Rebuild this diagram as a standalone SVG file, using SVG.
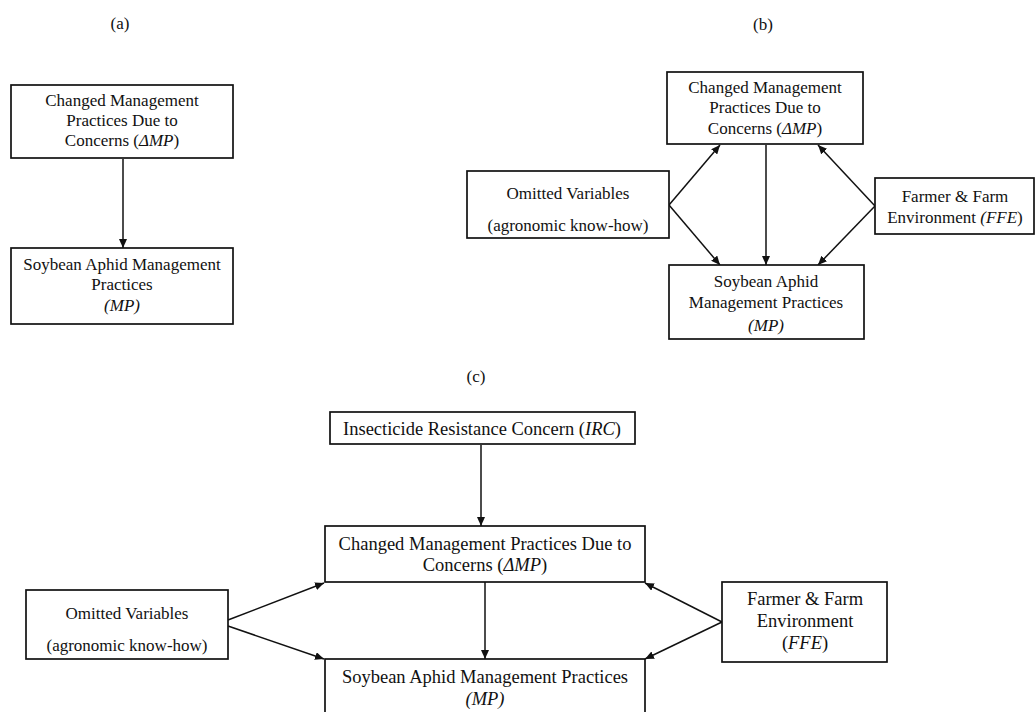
<svg xmlns="http://www.w3.org/2000/svg" width="1036" height="712" viewBox="0 0 1036 712">
<style>
text{font-family:"Liberation Serif","Times New Roman",serif;fill:#111;text-anchor:middle}
.s{font-size:17px}
.l{font-size:18.5px}
.lab{font-size:17px}
.box{fill:#fff;stroke:#111;stroke-width:1.7}
.c line{stroke:#111;stroke-width:1.5;marker-end:url(#ah)}
tspan.i{font-style:italic}
</style>
<defs>
<marker id="ah" markerUnits="userSpaceOnUse" markerWidth="9" markerHeight="8" viewBox="0 0 9 8" refX="9" refY="4" orient="auto">
<path d="M0,0 L9,4 L0,8 z" fill="#111"/>
</marker>
</defs>
<rect width="1036" height="712" fill="#fff"/>
<text class="lab" x="120" y="29">(a)</text>
<text class="lab" x="763" y="30">(b)</text>
<text class="lab" x="476" y="382">(c)</text>

<g class="c" id="connectors">
<line x1="123" y1="159" x2="123" y2="248"/>
<line x1="669" y1="205" x2="720" y2="145"/>
<line x1="669" y1="205" x2="720" y2="265"/>
<line x1="766" y1="145" x2="766" y2="265"/>
<line x1="875" y1="206" x2="818" y2="145"/>
<line x1="875" y1="206" x2="818" y2="265"/>
<line x1="481" y1="445" x2="481" y2="526"/>
<line x1="228" y1="620" x2="324" y2="583"/>
<line x1="228" y1="626" x2="324" y2="659"/>
<line x1="485" y1="582" x2="485" y2="659"/>
<line x1="722" y1="622" x2="645" y2="583"/>
<line x1="722" y1="622" x2="645" y2="659"/>
</g>

<g id="a-dmp">
<rect class="box" x="11" y="85" width="222" height="73"/>
<text class="s" x="122" y="106">Changed Management</text>
<text class="s" x="122" y="126">Practices Due to</text>
<text class="s" x="122" y="146">Concerns (<tspan class="i">ΔMP</tspan>)</text>
</g>
<g id="a-mp">
<rect class="box" x="11" y="248" width="222" height="76"/>
<text class="s" x="122" y="270">Soybean Aphid Management</text>
<text class="s" x="122" y="290">Practices</text>
<text class="s" x="122" y="311"><tspan class="i">(MP)</tspan></text>
</g>

<g id="b-dmp">
<rect class="box" x="667" y="72" width="196" height="72"/>
<text class="s" x="765" y="93">Changed Management</text>
<text class="s" x="765" y="113">Practices Due to</text>
<text class="s" x="765" y="134">Concerns (<tspan class="i">ΔMP</tspan>)</text>
</g>
<g id="b-ov">
<rect class="box" x="467" y="171" width="202" height="67"/>
<text class="s" x="568" y="199">Omitted Variables</text>
<text class="s" x="568" y="231">(agronomic know-how)</text>
</g>
<g id="b-ffe">
<rect class="box" x="875" y="178" width="159" height="56"/>
<text class="s" x="955" y="202">Farmer &amp; Farm</text>
<text class="s" x="955" y="223">Environment <tspan class="i">(FFE</tspan>)</text>
</g>
<g id="b-mp">
<rect class="box" x="669" y="265" width="195" height="74"/>
<text class="s" x="766" y="287">Soybean Aphid</text>
<text class="s" x="766" y="308">Management Practices</text>
<text class="s" x="766" y="331"><tspan class="i">(MP)</tspan></text>
</g>

<g id="c-irc">
<rect class="box" x="330" y="412" width="305" height="32"/>
<text class="l" x="482" y="435">Insecticide Resistance Concern (<tspan class="i">IRC</tspan>)</text>
</g>
<g id="c-dmp">
<rect class="box" x="325" y="526" width="320" height="56"/>
<text class="l" x="485" y="550">Changed Management Practices Due to</text>
<text class="l" x="485" y="571">Concerns (<tspan class="i">ΔMP</tspan>)</text>
</g>
<g id="c-ov">
<rect class="box" x="26" y="590" width="202" height="69"/>
<text class="s" x="127" y="619">Omitted Variables</text>
<text class="s" x="127" y="651">(agronomic know-how)</text>
</g>
<g id="c-ffe">
<rect class="box" x="722" y="582" width="165" height="80"/>
<text class="l" x="805" y="605">Farmer &amp; Farm</text>
<text class="l" x="805" y="627">Environment</text>
<text class="l" x="805" y="649">(<tspan class="i">FFE</tspan>)</text>
</g>
<g id="c-mp">
<rect class="box" x="325" y="659" width="320" height="70"/>
<text class="l" x="485" y="683">Soybean Aphid Management Practices</text>
<text class="l" x="485" y="705"><tspan class="i">(MP)</tspan></text>
</g>
</svg>
